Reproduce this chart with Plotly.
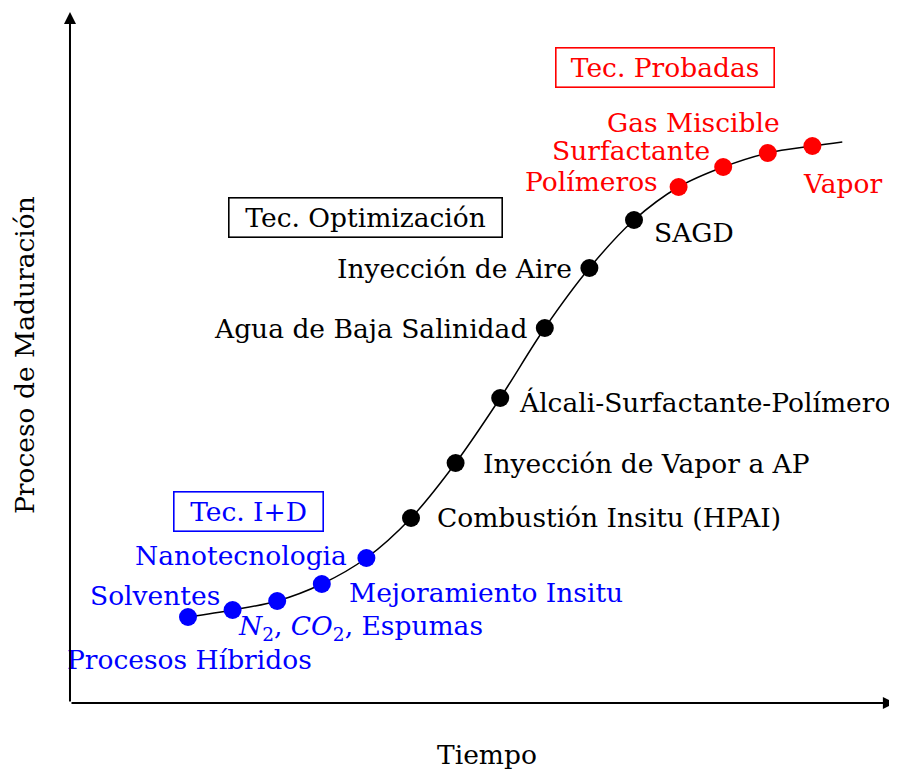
import plotly.graph_objects as go

# Data
tiempo = list(range(15))
maduracion = [86, 93, 102, 119, 145, 185, 240, 305, 375, 435, 483, 516, 536, 550, 557]
etiquetas = [
    "Procesos Híbridos", "Solventes", "<i>N</i><sub>2</sub>, <i>CO</i><sub>2</sub>, Espumas",
    "Mejoramiento Insitu", "Nanotecnologia",
    "Combustión Insitu (HPAI)", "Inyección de Vapor a AP", "Álcali-Surfactante-Polímero",
    "Agua de Baja Salinidad", "Inyección de Aire", "SAGD",
    "Polímeros", "Surfactante", "Gas Miscible", "Vapor",
]
grupos = ["ID"] * 5 + ["OPT"] * 6 + ["PROB"] * 4
curva_t = tiempo + [14.67]
curva_m = maduracion + [561]

colores = {"ID": "#0000ff", "OPT": "#000000", "PROB": "#ff0000"}
# label placement: (xanchor, xshift, yshift)
pos = [
    ("center", 1, -42), ("right", -11, 15), ("left", -41, -26), ("left", 25, -8), ("right", -17, 3),
    ("left", 24, 1), ("left", 25, 0), ("left", 17, -4), ("right", -16, 0), ("right", -15, 0),
    ("left", 18, -12), ("right", -19, 6), ("right", -11, 17), ("right", 14, 31), ("center", 30, -37),
]

FONT = "DejaVu Serif"
FS = 26.5

fig = go.Figure()
fig.add_trace(go.Scatter(x=curva_t, y=curva_m, mode="lines",
                         line=dict(color="black", width=1.5, shape="spline", smoothing=1.0),
                         hoverinfo="skip"))
fig.add_trace(go.Scatter(x=tiempo, y=maduracion, mode="markers",
                         marker=dict(size=18, color=[colores[g] for g in grupos], line=dict(width=0)),
                         text=etiquetas, hoverinfo="text"))

for t, m, lab, g, (xa, xs, ys) in zip(tiempo, maduracion, etiquetas, grupos, pos):
    fig.add_annotation(x=t, y=m, text=lab, showarrow=False, xanchor=xa, yanchor="middle",
                       xshift=xs, yshift=ys, font=dict(family=FONT, size=FS, color=colores[g]))

# boxed group labels
cajas = [("Tec. Probadas", 10.70, 636, "PROB", 209), ("Tec. Optimización", 3.99, 486, "OPT", 264),
         ("Tec. I+D", 1.35, 192, "ID", 140)]
for txt, t, m, g, w in cajas:
    fig.add_annotation(x=t, y=m, text=txt, showarrow=False, xanchor="center", yanchor="middle",
                       width=w, height=30,
                       font=dict(family=FONT, size=FS, color=colores[g]),
                       bordercolor=colores[g], borderwidth=1.6, borderpad=4, bgcolor="white")

x0 = -2.646
# axes with arrows
fig.add_annotation(x=x0, y=691, ax=x0, ay=0, xref="x", yref="y", axref="x", ayref="y",
                   text="", showarrow=True, arrowhead=2, arrowsize=1.2, arrowwidth=2, arrowcolor="black")
fig.add_annotation(x=15.85, y=0, ax=x0, ay=0, xref="x", yref="y", axref="x", ayref="y",
                   text="", showarrow=True, arrowhead=2, arrowsize=1.2, arrowwidth=2, arrowcolor="black")

fig.add_annotation(x=6.70, y=-51, text="Tiempo", showarrow=False,
                   font=dict(family=FONT, size=FS, color="black"))
fig.add_annotation(x=-3.677, y=348, text="Proceso de Maduración", showarrow=False, textangle=-90,
                   font=dict(family=FONT, size=FS, color="black"))

fig.update_layout(
    width=889, height=761, margin=dict(l=0, r=0, t=0, b=0),
    plot_bgcolor="white", paper_bgcolor="white", showlegend=False,
    xaxis=dict(range=[-4.036, 15.897], visible=False, fixedrange=True),
    yaxis=dict(range=[-66, 695], visible=False, fixedrange=True),
)
fig.write_html("out.html")
